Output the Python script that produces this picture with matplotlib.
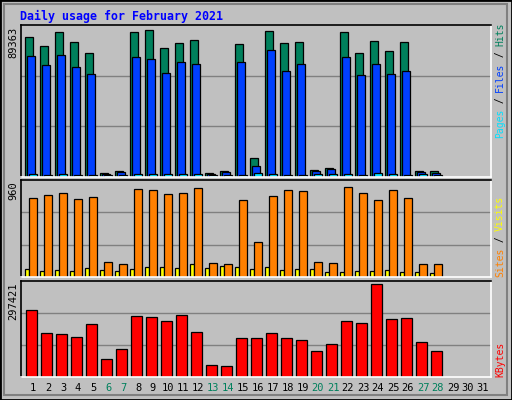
import matplotlib
matplotlib.use("Agg")
import matplotlib.pyplot as plt
import numpy as np
from matplotlib.patches import Rectangle

# data (Webalizer daily usage, Feb 2021)
days = list(range(1, 32))
weekend_days = [6, 7, 13, 14, 20, 21, 27, 28]
hits = [85200, 79800, 88800, 82200, 75600, 2600, 3800, 88800, 90000, 78600,
        81600, 83400, 2600, 3800, 81000, 11600, 89363, 81600, 82200, 4400,
        5600, 88800, 75600, 83200, 76800, 82200, 3800, 3800]
files = [73800, 68400, 74400, 67200, 63000, 2000, 3000, 73200, 72000, 63600,
         70200, 69000, 2000, 3000, 70200, 6800, 77400, 65000, 69000, 3800,
         5000, 73000, 62400, 69000, 63000, 65000, 3200, 2600]
pages = [2000, 1400, 2000, 1400, 1400, 1400, 1400, 2000, 2000, 2000,
         2000, 2000, 1400, 1400, 1400, 2600, 2000, 1400, 1400, 2000,
         2000, 2000, 1400, 2600, 2000, 1400, 2000, 1400]
sites = [844, 875, 895, 834, 854, 155, 135, 935, 925, 885,
         895, 945, 145, 135, 824, 375, 864, 925, 915, 165,
         145, 960, 895, 824, 925, 844, 135, 135]
visits = [83, 63, 73, 63, 93, 73, 63, 83, 104, 104,
          93, 135, 93, 114, 104, 83, 104, 73, 83, 83,
          52, 52, 63, 63, 73, 52, 52, 42]
kbytes = [215000, 140000, 137000, 130000, 170000, 59000, 91000, 195000, 192000, 179000,
          198000, 144000, 40000, 36000, 124000, 124000, 140000, 124000, 120000, 82000,
          105000, 179000, 173000, 297421, 185000, 189000, 111000, 85000]

BG = "#c0c0c0"
MONO = "DejaVu Sans Mono"
W, H = 512, 400

fig = plt.figure(figsize=(5.12, 4.0), dpi=100, facecolor=BG)


def fx(px):
    return px / W


def fy(py):
    return 1 - py / H


# outer bevel frame
fig.add_artist(Rectangle((0, 0), 1, 1, transform=fig.transFigure, fill=False,
                         edgecolor="black", lw=2))
fig.add_artist(Rectangle((fx(4), fy(395)), fx(503), 391 / H, transform=fig.transFigure,
                         fill=False, edgecolor="#808080", lw=1.5))

fig.text(fx(20), fy(16), "Daily usage for February 2021", color="#0000ff",
         fontsize=8.4, fontweight="bold", family=MONO, va="center")

x0 = np.arange(len(hits)) + 0.267
xl = (0, 470 / 15)


def panel(top, bot):
    ax = fig.add_axes([fx(21), fy(bot), fx(470), (bot - top) / H])
    ax.set_facecolor(BG)
    ax.set_xlim(*xl)
    ax.set_xticks([])
    ax.set_yticks([])
    for s in ("left", "top"):
        ax.spines[s].set_color("black")
    for s in ("right", "bottom"):
        ax.spines[s].set_color("white")
    for sp in ax.spines.values():
        sp.set_linewidth(1.2)
    return ax


bar_kw = dict(align="edge", edgecolor="black", linewidth=0.9)

# top panel
ax1 = panel(25, 177)
top1 = 92800
ax1.set_ylim(0, top1)
for g in (top1 / 3, 2 * top1 / 3):
    ax1.axhline(g, color="#808080", lw=1, zorder=0)
ax1.bar(x0, hits, width=0.52, color="#00805c", **bar_kw)
ax1.bar(x0 + 0.11, files, width=0.55, color="#0040ff", **bar_kw)
ax1.bar(x0 + 0.29, pages, width=0.5, color="#00e0ff", **bar_kw)

# middle panel
ax2 = panel(180, 277)
top2 = 1033
ax2.set_ylim(0, top2)
for g in (top2 / 3, 2 * top2 / 3):
    ax2.axhline(g, color="#808080", lw=1, zorder=0)
ax2.bar(x0, visits, width=0.29, color="#ffff00", **bar_kw)
ax2.bar(x0 + 0.29, sites, width=0.49, color="#ff8000", **bar_kw)

# bottom panel
ax3 = panel(281, 377)
top3 = 308200
ax3.set_ylim(0, top3)
for g in (top3 / 3, 2 * top3 / 3):
    ax3.axhline(g, color="#808080", lw=1, zorder=0)
ax3.bar(x0 + 0.07, kbytes, width=0.71, color="#ff0000", **bar_kw)

# day labels
for d in days:
    col = "#00805c" if d in weekend_days else "black"
    fig.text(fx(21 + (d - 1 + 0.8) * 15), fy(388), str(d), color=col,
             fontsize=7.5, family=MONO, ha="center", va="center")

# left max labels
fig.text(fx(13), fy(27), "89363", rotation=90, fontsize=7.5, family=MONO,
         ha="center", va="top")
fig.text(fx(13), fy(181), "960", rotation=90, fontsize=7.5, family=MONO,
         ha="center", va="top")
fig.text(fx(13), fy(283), "297421", rotation=90, fontsize=7.5, family=MONO,
         ha="center", va="top")

# right legends (vertical, multicolored)
CH = 5.75


def vlegend(start_py, parts):
    py = start_py
    for txt, col in parts:
        fig.text(fx(500), fy(py), txt, rotation=90, color=col, fontsize=7,
                 family=MONO, ha="center", va="bottom")
        py -= len(txt) * CH


vlegend(138, [("Pages", "#00e0ff"), (" / ", "black"), ("Files", "#0040ff"),
              (" / ", "black"), ("Hits", "#00805c")])
vlegend(277, [("Sites", "#ff8000"), (" / ", "black"), ("Visits", "#ffff00")])
vlegend(377, [("KBytes", "#ff0000")])

fig.savefig("out.png", dpi=100, facecolor=BG)
